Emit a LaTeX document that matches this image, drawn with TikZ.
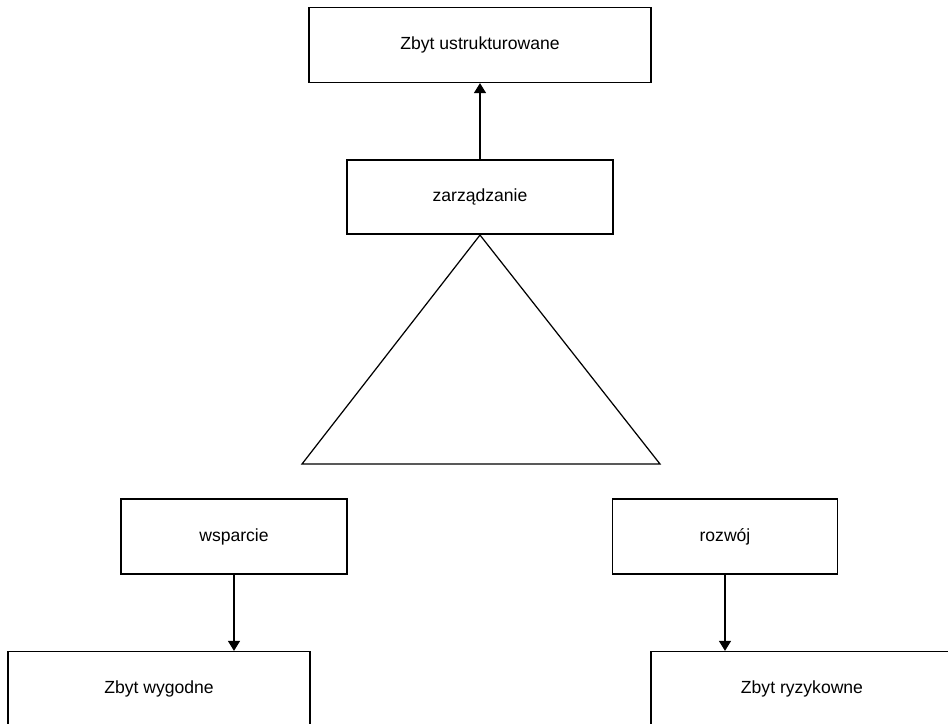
\documentclass[tikz,border=0pt]{standalone}
\usepackage{fontspec}
\setmainfont{Liberation Sans}
\usetikzlibrary{arrows.meta,positioning,calc}

\begin{document}
\begin{tikzpicture}[
    x=0.02cm, y=-0.02cm,
    box/.style={draw, rectangle, line width=0.7pt, inner sep=0pt,
                minimum height=1.5cm, font=\fontsize{10}{12}\selectfont, align=center},
    arrow/.style={-{Triangle[length=2mm,width=2.4mm]}, line width=0.7pt}
  ]
  \clip (0,0) rectangle (948,724);
  \node[box, minimum width=6.84cm] (over)   at (480,45)    {Zbyt ustrukturowane};
  \node[box, minimum width=5.32cm, minimum height=1.48cm, line width=1.2pt]
                                   (manage) at (480,197)   {zarządzanie};
  \node[box, minimum width=4.52cm] (support) at (234,536.5) {wsparcie};
  \node[box, minimum width=4.5cm]  (develop) at (725,536.5) {rozwój};
  \node[box, minimum width=6.04cm] (comfy)  at (159,689)   {Zbyt wygodne};
  \node[box, minimum width=6.04cm] (risky)  at (802,689)   {Zbyt ryzykowne};

  \coordinate (baseL) at (302,464);
  \coordinate (baseR) at (660,464);
  \draw[line width=0.7pt, line join=miter] (manage.south) -- (baseR) -- (baseL) -- cycle;

  \draw[arrow] (manage.north)  -- (manage.north |- over.south);
  \draw[arrow] (support.south) -- (support.south |- comfy.north);
  \draw[arrow] (develop.south) -- (develop.south |- risky.north);
\end{tikzpicture}
\end{document}
